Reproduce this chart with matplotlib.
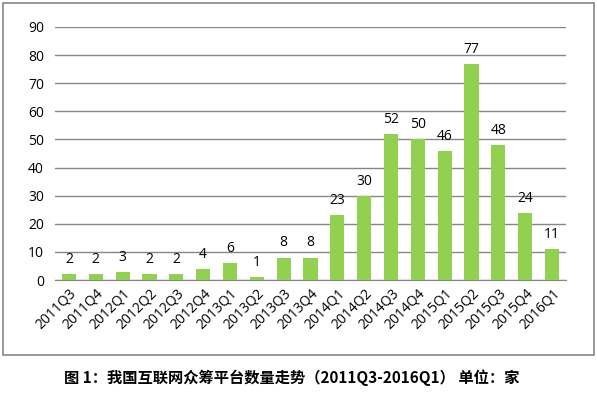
import matplotlib
matplotlib.use('Agg')
import matplotlib.pyplot as plt
from matplotlib.patches import Rectangle

plt.rcParams['font.family'] = ['Open Sans', 'Noto Sans CJK SC', 'DejaVu Sans']

quarters = ['2011Q3', '2011Q4', '2012Q1', '2012Q2', '2012Q3', '2012Q4',
            '2013Q1', '2013Q2', '2013Q3', '2013Q4', '2014Q1', '2014Q2',
            '2014Q3', '2014Q4', '2015Q1', '2015Q2', '2015Q3', '2015Q4', '2016Q1']
counts = [2, 2, 3, 2, 2, 4, 6, 1, 8, 8, 23, 30, 52, 50, 46, 77, 48, 24, 11]
yticks = [0, 10, 20, 30, 40, 50, 60, 70, 80, 90]
caption = '图 1：我国互联网众筹平台数量走势（2011Q3-2016Q1） 单位：家'

W, H = 597, 401
fig = plt.figure(figsize=(W / 100, H / 100), dpi=100)

# outer frame
fig.patches.append(Rectangle((3 / W, 1 - 355 / H), 591 / W, 352 / H,
                             transform=fig.transFigure, fill=False,
                             edgecolor='#868686', linewidth=1.2))

ax = fig.add_axes([55 / W, 1 - 280 / H, 511 / W, 253 / H])
x = list(range(len(quarters)))
ax.bar(x, counts, width=0.53, color='#92D050', zorder=3)
for xi, v in zip(x, counts):
    ax.text(xi, v + 2.5, str(v), ha='center', va='bottom', fontsize=10)

ax.set_xlim(-0.52, len(quarters) - 0.48)
ax.set_ylim(0, 90)
ax.set_yticks(yticks)
ax.yaxis.grid(True, color='#868686', linewidth=1)
ax.set_axisbelow(True)
for s in ['top', 'right', 'left']:
    ax.spines[s].set_visible(False)
ax.spines['bottom'].set_color('#868686')
ax.tick_params(axis='both', length=0, labelsize=10, pad=8)
ax.set_xticks(x)
ax.set_xticklabels(quarters, rotation=45, ha='right', rotation_mode='anchor')
ax.tick_params(axis='x', pad=4)

fig.text(292 / W, 1 - 378 / H, caption, ha='center', va='center',
         fontsize=11, fontweight='bold',
         family=['Noto Sans CJK SC', 'DejaVu Sans'])

fig.savefig('out.png', dpi=100)
